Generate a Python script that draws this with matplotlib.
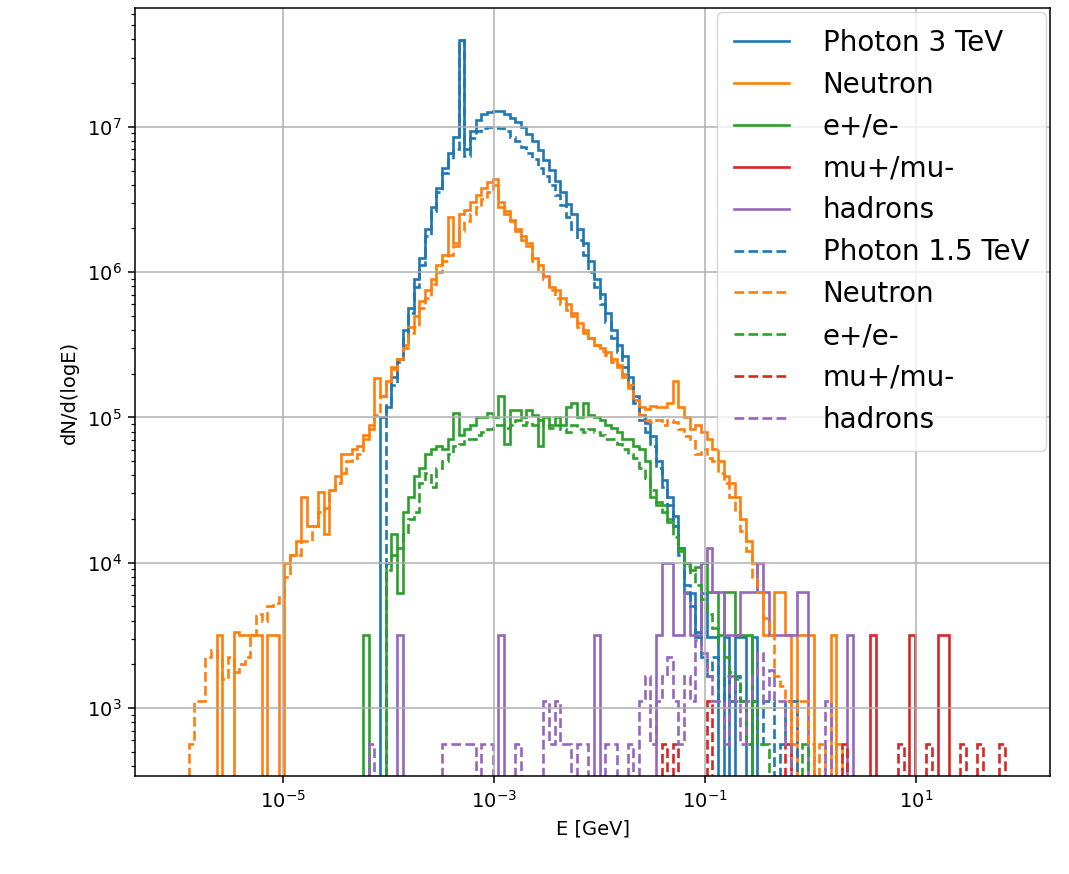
import numpy as np
import matplotlib
matplotlib.use("Agg")
import matplotlib.pyplot as plt
from matplotlib.ticker import NullLocator

# common log-spaced bins, 1e-6 .. 1e2 GeV
edges = np.logspace(-6, 2, 151)

# log10(dN/dlogE) per bin, 0 = empty bin
photon3_start = 36
photon3 = [5.00, 5.07, 5.28, 5.40, 5.60, 5.75, 5.95, 6.10, 6.30, 6.45, 6.58, 6.72, 6.82, 6.93,
           7.60, 6.85, 6.97, 7.05, 7.09, 7.10, 7.11, 7.11, 7.09, 7.06, 7.03, 7.00, 6.95, 6.90,
           6.84, 6.77, 6.70, 6.63, 6.55, 6.47, 6.40, 6.30, 6.20, 6.08, 5.95, 5.85, 5.72, 5.60,
           5.50, 5.42, 5.28, 5.15, 5.02, 4.96, 4.87, 4.70, 4.57, 4.45, 4.32, 4.10, 3.79, 3.79,
           3.49, 3.79, 3.49, 3.49, 0, 3.49, 0, 3.49, 3.49, 0, 3.49]

photon15_start = 37
photon15 = [5.10, 5.22, 5.38, 5.55, 5.72, 5.90, 6.05, 6.25, 6.42, 6.55, 6.68, 6.78, 6.85,
            7.60, 6.80, 6.92, 6.97, 6.99, 7.00, 7.00, 6.99, 6.97, 6.93, 6.90, 6.86, 6.82, 6.78,
            6.72, 6.66, 6.60, 6.53, 6.46, 6.38, 6.30, 6.22, 6.12, 6.00, 5.90, 5.78, 5.66, 5.55,
            5.45, 5.35, 5.22, 5.10, 4.98, 4.90, 4.80, 4.65, 4.52, 4.40, 4.25, 4.05, 3.85, 3.70,
            3.52, 3.35, 3.22, 3.35, 3.05, 3.22, 3.05, 3.22, 3.05, 2.75, 3.05, 2.75, 3.05, 3.05,
            0, 2.75, 3.05, 3.05]

neutron3_start = 7
neutron3 = [3.50, 0, 0, 3.52, 3.50, 3.50, 3.50, 3.50, 0, 3.50, 3.50, 0, 4.00, 4.05, 4.15,
            4.45, 4.25, 4.25, 4.49, 4.20, 4.50, 4.60, 4.75, 4.75, 4.78, 4.80, 4.88, 4.92, 5.27,
            5.15, 5.25, 5.35, 5.40, 5.50, 5.62, 5.70, 5.80, 5.88, 5.95, 6.05, 6.12, 6.38, 6.20,
            6.40, 6.43, 6.48, 6.53, 6.58, 6.62, 6.64, 6.45, 6.42, 6.36, 6.30, 6.25, 6.20, 6.10,
            6.05, 5.97, 5.90, 5.88, 5.82, 5.78, 5.72, 5.65, 5.60, 5.55, 5.50, 5.48, 5.45, 5.40,
            5.36, 5.30, 5.20, 5.12, 5.07, 5.06, 5.08, 5.07, 5.07, 5.10, 5.25, 5.07, 5.00, 4.92,
            4.95, 4.90, 4.85, 4.78, 4.70, 4.60, 4.55, 4.45, 4.30, 4.15, 4.00, 3.80, 3.50, 3.50,
            3.80, 3.80, 3.50, 0, 3.50, 3.50, 3.50, 0, 0, 0, 3.50]

neutron15_start = 2
neutron15 = [2.75, 3.05, 3.05, 3.35, 3.40, 3.35, 3.20, 3.35, 3.25, 3.30, 3.35, 3.50, 3.65,
             3.60, 3.70, 3.72, 3.78, 3.90, 4.05, 4.05, 4.15, 4.15, 4.25, 4.35, 4.38, 4.50, 4.55,
             4.62, 4.70, 4.72, 4.75, 4.85, 4.95, 5.02, 5.15, 5.25, 5.33, 5.40, 5.48, 5.58, 5.62,
             5.75, 5.82, 5.92, 6.00, 6.08, 6.12, 6.18, 6.28, 6.35, 6.40, 6.45, 6.50, 6.55, 6.60,
             6.48, 6.40, 6.35, 6.28, 6.22, 6.18, 6.08, 6.00, 5.95, 5.88, 5.82, 5.78, 5.74, 5.70,
             5.62, 5.58, 5.55, 5.50, 5.46, 5.43, 5.38, 5.35, 5.28, 5.22, 5.12, 5.02, 4.98, 4.97,
             4.98, 4.95, 4.98, 4.97, 4.92, 4.87, 4.85, 4.75, 4.78, 4.72, 4.70, 4.62, 4.55, 4.45,
             4.35, 4.22, 4.08, 3.90, 3.80, 3.62, 3.50, 3.22, 3.15, 3.05, 2.75, 3.05, 3.05, 2.75,
             0, 2.75, 0, 0, 2.75]

ee3_start = 33
ee3 = [3.50, 0, 0, 0, 4.00, 4.20, 3.79, 4.35, 4.45, 4.60, 4.65, 4.75, 4.78, 4.80, 4.78, 4.85,
       5.03, 4.88, 4.92, 4.95, 5.00, 5.00, 5.03, 5.00, 5.15, 4.82, 5.05, 5.05, 5.00, 5.05, 5.02,
       4.80, 5.00, 4.95, 5.00, 4.95, 5.07, 5.10, 5.00, 5.10, 5.02, 5.00, 4.98, 4.95, 4.93, 4.90,
       4.85, 4.85, 4.80, 4.78, 4.70, 4.45, 4.40, 4.40, 4.30, 4.25, 4.10, 4.00, 3.95, 3.97, 4.00,
       3.80, 3.80, 3.50, 3.80, 3.80, 3.50, 3.50, 3.50]

ee15_start = 37
ee15 = [3.95, 4.05, 4.10, 4.20, 4.30, 4.35, 4.55, 4.62, 4.52, 4.65, 4.70, 4.75, 4.80, 4.82,
        4.85, 4.85, 4.88, 4.90, 4.92, 4.95, 4.95, 4.93, 4.95, 4.98, 4.95, 4.97, 4.95, 4.98,
        4.95, 4.93, 4.95, 4.92, 4.90, 4.95, 4.92, 4.90, 4.92, 4.90, 4.88, 4.85, 4.85, 4.82,
        4.78, 4.75, 4.72, 4.65, 4.58, 4.50, 4.42, 4.35, 4.28, 4.18, 4.08, 3.98, 3.92, 3.85,
        3.75, 3.65, 3.55, 3.45, 3.35, 3.25, 3.20, 3.05, 2.75, 3.05, 2.75, 2.75, 0, 0, 0, 0, 0,
        0, 2.75]

# sparse series: bin index -> log10 value
mu3_bins = [123, 130, 135, 136]
mu3 = [3.50, 3.50, 3.50, 3.50]
mu15_bins = [86, 88, 94, 108, 118, 128, 133, 139, 142, 146]
mu15 = [2.75, 2.75, 3.05, 2.75, 2.75, 2.75, 2.75, 2.75, 2.75, 2.75]

had3_bins = [39, 57, 74, 85, 86, 87, 88, 89, 90, 91, 92, 93, 94, 95, 96, 97, 98, 99, 100,
             101, 102, 103, 104, 105, 106, 107, 108, 109, 110, 111, 119]
had3 = [3.5, 3.5, 3.5, 3.5, 4.0, 4.0, 3.5, 3.5, 3.8, 3.5, 3.5, 4.0, 4.1, 3.8, 3.8, 3.5, 3.5,
        3.5, 3.8, 3.8, 3.8, 4.0, 3.8, 3.5, 3.5, 3.5, 3.5, 3.5, 3.8, 3.8, 3.5]
had15_bins = [34, 47, 48, 49, 50, 51, 52, 54, 55, 60, 65, 66, 67, 68, 69, 71, 72, 76, 77, 80,
              82, 83, 84, 85, 86, 87, 88, 89, 90, 91, 92, 93, 94, 95, 96, 97, 98, 99, 100, 101,
              102, 103, 104, 105, 106, 107, 108, 115]
had15 = [2.75, 2.75, 2.75, 2.75, 2.75, 2.75, 2.75, 2.75, 2.75, 2.75, 3.05, 2.75, 3.05, 2.75,
         2.75, 2.75, 2.75, 2.75, 2.75, 2.75, 3.05, 3.22, 2.75, 3.05, 3.22, 3.35, 3.05, 2.75,
         3.22, 3.05, 3.47, 3.38, 3.22, 3.05, 3.05, 2.75, 3.22, 3.05, 2.75, 3.05, 3.22, 3.38,
         3.05, 3.26, 3.05, 3.05, 2.75, 3.05]

labels = ['Photon 3 TeV', 'Neutron', 'e+/e-', 'mu+/mu-', 'hadrons',
          'Photon 1.5 TeV', 'Neutron', 'e+/e-', 'mu+/mu-', 'hadrons']


def dense(start, logv):
    h = np.zeros(len(edges) - 1)
    lv = np.array(logv, dtype=float)
    h[start:start + len(lv)] = np.where(lv > 0, 10 ** lv, 0)
    return h


def sparse(bins, logv):
    h = np.zeros(len(edges) - 1)
    h[np.array(bins)] = 10 ** np.array(logv, dtype=float)
    return h


series_3tev = [dense(photon3_start, photon3), dense(neutron3_start, neutron3),
               dense(ee3_start, ee3), sparse(mu3_bins, mu3), sparse(had3_bins, had3)]
series_15tev = [dense(photon15_start, photon15), dense(neutron15_start, neutron15),
                dense(ee15_start, ee15), sparse(mu15_bins, mu15), sparse(had15_bins, had15)]

fig = plt.figure(figsize=(10.69, 8.74), dpi=100)
ax = fig.add_axes([135 / 1069, 98 / 874, 915 / 1069, 768 / 874])
ax.set_xscale('log')
ax.set_yscale('log')

colors = ['C0', 'C1', 'C2', 'C3', 'C4']
i = 0
for h, c in zip(series_3tev, colors):
    ax.stairs(h, edges, color=c, linewidth=1.9, label=labels[i])
    i += 1
for h, c in zip(series_15tev, colors):
    ax.stairs(h, edges, color=c, linewidth=1.9, linestyle='--', label=labels[i])
    i += 1

ax.set_xlim(10 ** -6.40, 10 ** 2.265)
ax.set_ylim(10 ** 2.532, 10 ** 7.818)
ax.set_xticks([1e-5, 1e-3, 1e-1, 1e1])
ax.xaxis.set_minor_locator(NullLocator())
ax.grid(True, which='major', color='#b0b0b0', linewidth=1.1)
ax.tick_params(which='major', labelsize=14, length=4.9, width=1.1, pad=4.9)
ax.tick_params(which='minor', length=2.8, width=0.85)
for sp in ax.spines.values():
    sp.set_linewidth(1.1)
ax.set_xlabel('E [GeV]', fontsize=14, labelpad=5.6)
ax.set_ylabel('dN/d(logE)', fontsize=14, labelpad=5.6)
ax.legend(loc='upper right', fontsize=20, borderaxespad=0.15, borderpad=0.6,
          handletextpad=1.2)

fig.savefig('out.png', dpi=100)
